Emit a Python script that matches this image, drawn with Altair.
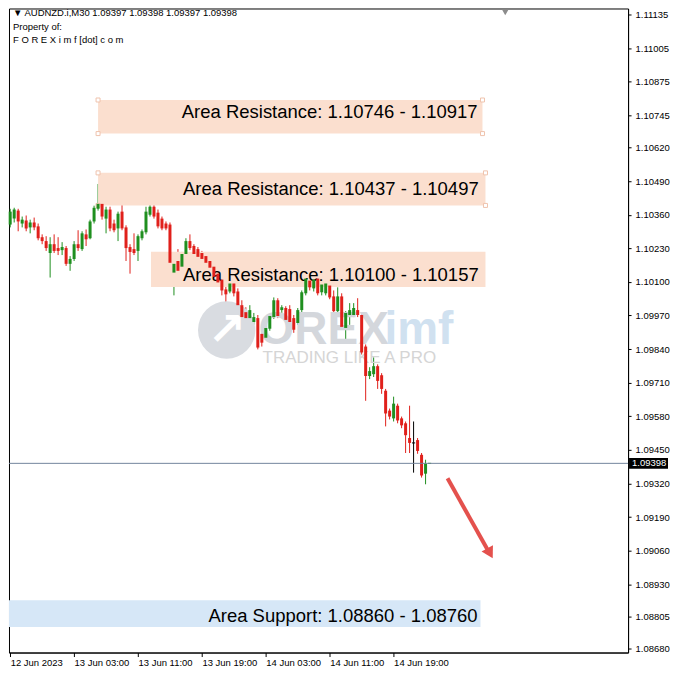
import altair as alt
import pandas as pd

# ---------------- data ----------------
opens = [1.10322, 1.10345, 1.10376, 1.10326, 1.10338, 1.10311, 1.10330, 1.10315, 1.10273, 1.10258,
         1.10212, 1.10246, 1.10231, 1.10223, 1.10231, 1.10170, 1.10189, 1.10246, 1.10227, 1.10284,
         1.10269, 1.10334, 1.10383, 1.10402, 1.10345, 1.10380, 1.10326, 1.10307, 1.10372, 1.10311,
         1.10235, 1.10227, 1.10220, 1.10269, 1.10292, 1.10360, 1.10391, 1.10368, 1.10345, 1.10326,
         1.10322, 1.10136, 1.10181, 1.10159, 1.10208, 1.10258, 1.10239, 1.10227, 1.10212, 1.10200,
         1.10181, 1.10159, 1.10132, 1.10109, 1.10071, 1.10063, 1.10094, 1.10063, 1.10010, 1.09983,
         1.09960, 1.09945, 1.09960, 1.09899, 1.09884, 1.09919, 1.09964, 1.10029, 1.09991, 1.09999,
         1.09995, 1.09960, 1.09941, 1.09991, 1.10056, 1.10105, 1.10075, 1.10113, 1.10060, 1.10056,
         1.10086, 1.10044, 1.09987, 1.10044, 1.09922, 1.09972, 1.09972, 1.09991, 1.09972, 1.09850,
         1.09736, 1.09743, 1.09774, 1.09739, 1.09679, 1.09602, 1.09572, 1.09621, 1.09572, 1.09553,
         1.09496, 1.09477, 1.09488, 1.09431, 1.09358, 1.09397]
highs = [1.10383, 1.10387, 1.10383, 1.10353, 1.10357, 1.10341, 1.10349, 1.10326, 1.10284, 1.10277,
         1.10273, 1.10284, 1.10273, 1.10254, 1.10239, 1.10200, 1.10258, 1.10300, 1.10296, 1.10303,
         1.10341, 1.10395, 1.10479, 1.10444, 1.10391, 1.10391, 1.10341, 1.10372, 1.10421, 1.10319,
         1.10246, 1.10288, 1.10284, 1.10303, 1.10391, 1.10421, 1.10399, 1.10380, 1.10353, 1.10334,
         1.10330, 1.10208, 1.10227, 1.10216, 1.10269, 1.10284, 1.10246, 1.10235, 1.10220, 1.10208,
         1.10189, 1.10166, 1.10143, 1.10120, 1.10086, 1.10105, 1.10105, 1.10075, 1.10029, 1.10002,
         1.10010, 1.09980, 1.09972, 1.09915, 1.09930, 1.09976, 1.10040, 1.10037, 1.10010, 1.10006,
         1.10010, 1.09972, 1.09999, 1.10067, 1.10124, 1.10136, 1.10120, 1.10124, 1.10105, 1.10113,
         1.10098, 1.10067, 1.10079, 1.10056, 1.09987, 1.10018, 1.10018, 1.10037, 1.09980, 1.09858,
         1.09770, 1.09808, 1.09781, 1.09747, 1.09686, 1.09610, 1.09656, 1.09629, 1.09579, 1.09560,
         1.09621, 1.09560, 1.09496, 1.09438, 1.09412, 1.09398]
lows = [1.10311, 1.10330, 1.10296, 1.10311, 1.10296, 1.10288, 1.10300, 1.10261, 1.10246, 1.10220,
        1.10117, 1.10212, 1.10204, 1.10204, 1.10162, 1.10143, 1.10181, 1.10220, 1.10220, 1.10239,
        1.10265, 1.10326, 1.10376, 1.10341, 1.10288, 1.10296, 1.10292, 1.10258, 1.10300, 1.10181,
        1.10132, 1.10204, 1.10181, 1.10261, 1.10284, 1.10353, 1.10345, 1.10307, 1.10300, 1.10300,
        1.10143, 1.10048, 1.10136, 1.10151, 1.10200, 1.10223, 1.10200, 1.10189, 1.10181, 1.10162,
        1.10147, 1.10109, 1.10086, 1.10048, 1.10021, 1.10056, 1.10044, 1.09999, 1.09865, 1.09945,
        1.09953, 1.09934, 1.09839, 1.09850, 1.09877, 1.09911, 1.09957, 1.09960, 1.09960, 1.09945,
        1.09934, 1.09903, 1.09934, 1.09983, 1.10048, 1.10067, 1.10063, 1.10048, 1.10048, 1.10048,
        1.10033, 1.09980, 1.09980, 1.09919, 1.09877, 1.09934, 1.09964, 1.09964, 1.09819, 1.09640,
        1.09724, 1.09732, 1.09686, 1.09667, 1.09541, 1.09568, 1.09560, 1.09553, 1.09534, 1.09438,
        1.09438, 1.09362, 1.09435, 1.09343, 1.09317, 1.09397]
closes = [1.10372, 1.10380, 1.10334, 1.10341, 1.10307, 1.10330, 1.10311, 1.10269, 1.10258, 1.10231,
          1.10246, 1.10220, 1.10220, 1.10235, 1.10170, 1.10189, 1.10246, 1.10231, 1.10288, 1.10265,
          1.10334, 1.10387, 1.10402, 1.10353, 1.10380, 1.10307, 1.10300, 1.10364, 1.10307, 1.10231,
          1.10216, 1.10212, 1.10277, 1.10296, 1.10372, 1.10391, 1.10353, 1.10315, 1.10307, 1.10307,
          1.10174, 1.10170, 1.10143, 1.10208, 1.10258, 1.10231, 1.10208, 1.10197, 1.10189, 1.10174,
          1.10155, 1.10120, 1.10098, 1.10067, 1.10052, 1.10094, 1.10056, 1.10010, 1.09964, 1.09960,
          1.09991, 1.09964, 1.09846, 1.09865, 1.09922, 1.09968, 1.10029, 1.09968, 1.10002, 1.09953,
          1.09945, 1.09915, 1.09991, 1.10060, 1.10113, 1.10079, 1.10109, 1.10056, 1.10090, 1.10094,
          1.10040, 1.09987, 1.10044, 1.09926, 1.09980, 1.09991, 1.09999, 1.09972, 1.09827, 1.09736,
          1.09755, 1.09774, 1.09717, 1.09686, 1.09591, 1.09579, 1.09629, 1.09564, 1.09545, 1.09507,
          1.09477, 1.09477, 1.09446, 1.09351, 1.09397, 1.09398]

time_ticks = [0, 16, 32, 48, 64, 80, 96]
time_labels = ["12 Jun 2023", "13 Jun 03:00", "13 Jun 11:00", "13 Jun 19:00",
               "14 Jun 03:00", "14 Jun 11:00", "14 Jun 19:00"]
price_ticks = [1.11135, 1.11005, 1.10875, 1.10745, 1.10620, 1.10490, 1.10360, 1.10230,
               1.10100, 1.09970, 1.09840, 1.09710, 1.09580, 1.09450, 1.09320, 1.09190,
               1.09060, 1.08930, 1.08805, 1.08680]
bid_price = 1.09398

zone_labels = ["Area Resistance: 1.10746 - 1.10917", "Area Resistance: 1.10437 - 1.10497",
               "Area Resistance: 1.10100 - 1.10157", "Area Support: 1.08860 - 1.08760"]
zone_start = [22, 22, 35.25, -0.3]
zone_end = [118.25, 119, 119, 117.75]
zone_top = [1.10804, 1.10522, 1.10217, 1.08868]
zone_bottom = [1.10674, 1.10396, 1.10080, 1.08765]
zone_fill = ["#fbdfcf", "#fbdfcf", "#fbdfcf", "#d6e7f7"]
zone_text_x = [117.0, 117.3, 117.3, 117.0]
zone_text_y = [1.10758, 1.10461, 1.10125, 1.08807]

# selection handles on the two upper zones (corner points)
handle_i = [22, 22, 118.25, 118.25, 22, 22, 119, 119]
handle_p = [1.10804, 1.10674, 1.10804, 1.10674, 1.10522, 1.10396, 1.10522, 1.10396]

arrow_i = [109.5, 119.6]
arrow_p = [1.09340, 1.09062]
arrow_head_i = [119.9]
arrow_head_p = [1.09056]

# ---------------- chart ----------------
W, H = 620, 645
FONT = "Liberation Sans"
xs = alt.Scale(domain=[-0.3, 154.7], nice=False, zero=False, padding=0)
ys = alt.Scale(domain=[1.08666, 1.11158], nice=False, zero=False, padding=0)
cscale = alt.Scale(domain=["up", "down", "flat"], range=["#1f8f1f", "#e0201b", "#000000"])

n = len(opens)
candles = pd.DataFrame({"idx": list(range(n)), "open": opens, "high": highs,
                        "low": lows, "close": closes})
candles["dir"] = ["up" if c > o else ("down" if c < o else "flat") for o, c in zip(opens, closes)]
candles["flat"] = [abs(c - o) < 0.000015 for o, c in zip(opens, closes)]

label_expr = "[" + ",".join("'" + s + "'" for s in time_labels) + "][round(datum.value/16)]"

x_axis = alt.Axis(values=time_ticks, labelExpr=label_expr, labelAlign="left", tickSize=4,
                  labelPadding=1, title=None, grid=False, labelOverlap=False,
                  labelFlush=False)
y_axis = alt.Axis(orient="right", values=price_ticks, format=".5f", tickSize=3,
                  labelPadding=4, title=None, grid=False, labelOverlap=False)


def X(field):
    return alt.X(field, scale=xs, axis=x_axis)


def Y(field):
    return alt.Y(field, scale=ys, axis=y_axis)


base = alt.Chart(candles)

wicks = base.mark_rule(strokeWidth=1).encode(
    x=X("idx:Q"), y=Y("low:Q"), y2="high:Q",
    color=alt.Color("dir:N", scale=cscale, legend=None),
)
bodies = base.mark_bar(size=3).encode(
    x=X("idx:Q"), y=Y("open:Q"), y2="close:Q",
    color=alt.Color("dir:N", scale=cscale, legend=None),
)
flats = base.transform_filter("datum.flat").transform_calculate(
    a="datum.idx - 0.4", b="datum.idx + 0.4"
).mark_rule(strokeWidth=1).encode(
    x=X("a:Q"), x2="b:Q", y=Y("close:Q"),
    color=alt.Color("dir:N", scale=cscale, legend=None),
)

zones = pd.DataFrame({"x1": zone_start, "x2": zone_end, "top": zone_top, "bot": zone_bottom,
                      "fill": zone_fill, "label": zone_labels, "tx": zone_text_x,
                      "ty": zone_text_y})
zone_rects = alt.Chart(zones).mark_rect().encode(
    x=X("x1:Q"), x2="x2:Q", y=Y("top:Q"), y2="bot:Q",
    fill=alt.Fill("fill:N", scale=None),
)
zone_texts = alt.Chart(zones).mark_text(align="right", baseline="middle", font=FONT,
                                        fontSize=18.5, color="#000000").encode(
    x=X("tx:Q"), y=Y("ty:Q"), text="label:N",
)
handles = alt.Chart(pd.DataFrame({"i": handle_i, "p": handle_p})).mark_square(
    size=16, filled=True, fill="#ffffff", stroke="#efc3ad", strokeWidth=1, opacity=1
).encode(x=X("i:Q"), y=Y("p:Q"))

one = pd.DataFrame({"k": [0]})
# watermark
wm_circle = alt.Chart(one).mark_circle(size=3300, color="#d9dce1", opacity=1).encode(
    x=alt.value(218), y=alt.value(322))
wm_arrow = alt.Chart(one).mark_text(
    text="\u2197", font="DejaVu Sans", fontSize=46, fontWeight="bold", color="#ffffff",
    align="center", baseline="middle").encode(x=alt.value(218), y=alt.value(323))
wm_orex = alt.Chart(one).mark_text(
    text="OREX", font=FONT, fontSize=46, fontWeight="bold", color="#d4d7dc",
    align="left", baseline="middle").encode(x=alt.value(250), y=alt.value(322))
wm_imf = alt.Chart(one).mark_text(
    text="imf", font=FONT, fontSize=46, fontWeight="bold", color="#d0e1f0",
    align="left", baseline="middle").encode(x=alt.value(376), y=alt.value(322))
wm_tag = alt.Chart(one).mark_text(
    text="TRADING LIKE A PRO", font=FONT, fontSize=17, color="#d5d5d5",
    align="left", baseline="middle").encode(x=alt.value(254), y=alt.value(350))

# header
hdr1 = alt.Chart(one).mark_text(
    text="\u25bc  AUDNZD.i,M30  1.09397 1.09398 1.09397 1.09398", font=FONT, fontSize=9.5,
    color="#000000", align="left", baseline="middle").encode(x=alt.value(4), y=alt.value(5))
hdr2 = alt.Chart(one).mark_text(
    text="Property of:", font=FONT, fontSize=9.5, color="#000000",
    align="left", baseline="middle").encode(x=alt.value(4), y=alt.value(19))
hdr3 = alt.Chart(one).mark_text(
    text="F O R E X i m f [dot] c o m", font=FONT, fontSize=9.5, color="#000000",
    align="left", baseline="middle").encode(x=alt.value(4), y=alt.value(32))

# bid line and label
bid_df = pd.DataFrame({"p": [bid_price], "hi": [bid_price + 0.00021],
                       "lo": [bid_price - 0.00021], "txt": [f"{bid_price:.5f}"]})
bid_line = alt.Chart(bid_df).mark_rule(color="#73869d", strokeWidth=1).encode(y=Y("p:Q"))
bid_box = alt.Chart(bid_df).mark_rect(color="#000000").encode(
    x=alt.value(W + 1), x2=alt.value(W + 40), y=Y("hi:Q"), y2="lo:Q")
bid_txt = alt.Chart(bid_df).mark_text(font=FONT, fontSize=9.5, color="#ffffff",
                                      align="left", baseline="middle").encode(
    x=alt.value(W + 4), y=Y("p:Q"), text="txt:N")

# arrow
arrow_df = pd.DataFrame({"i": arrow_i, "p": arrow_p})
arrow_line = alt.Chart(arrow_df).mark_line(color="#e4514d", strokeWidth=4).encode(
    x=X("i:Q"), y=Y("p:Q"))
head_df = pd.DataFrame({"i": arrow_head_i, "p": arrow_head_p})
arrow_head = alt.Chart(head_df).mark_point(shape="triangle", filled=True, size=170,
                                           angle=151, color="#e4514d", opacity=1).encode(
    x=X("i:Q"), y=Y("p:Q"))

shift_mark = alt.Chart(one).mark_point(
    shape="triangle-down", filled=True, size=40, color="#8c8c8c", opacity=1).encode(
    x=alt.value(497), y=alt.value(4))

chart = alt.layer(
    wicks, wm_circle, wm_arrow, wm_orex, wm_imf, wm_tag,
    zone_rects, handles, zone_texts, hdr1, hdr2, hdr3,
    bodies, flats, bid_line, bid_box, bid_txt, arrow_line, arrow_head, shift_mark,
).properties(
    width=W, height=H,
    padding={"left": 0, "top": 0, "right": 0, "bottom": 0},
    background="#ffffff",
).configure_view(
    stroke="#000000", strokeWidth=1,
).configure_axis(
    labelFont=FONT, labelFontSize=9.5, labelColor="#000000",
    domainColor="#000000", tickColor="#000000", domainWidth=1, tickWidth=1,
)

chart.save("out.html", embed_options={"renderer": "svg", "actions": False})
